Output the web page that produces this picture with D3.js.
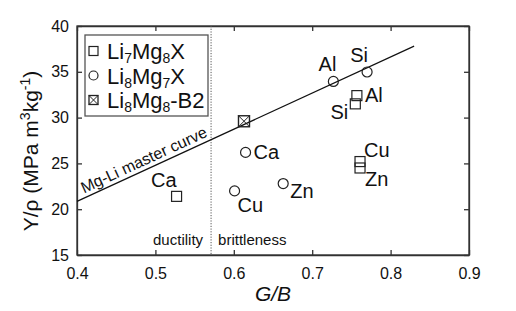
<!DOCTYPE html>
<html>
<head>
<meta charset="utf-8">
<script src="https://cdn.jsdelivr.net/npm/d3@7"></script>
<style>
  body { margin: 0; background: #fff; }
  text { font-family: "Liberation Sans", Arial, sans-serif; fill: #111; }
</style>
</head>
<body>
<div id="container"></div>
<script>
/* DATA */
const xTicks = [0.4, 0.5, 0.6, 0.7, 0.8, 0.9];
const yTicks = [15, 20, 25, 30, 35, 40];

// Li7Mg8X (squares)
const li7Names = ["Ca", "Al", "Si", "Cu", "Zn"];
const li7GB = [0.527, 0.757, 0.755, 0.761, 0.761];
const li7Y = [21.4, 32.4, 31.5, 25.2, 24.5];

// Li8Mg7X (circles)
const li8Names = ["Al", "Si", "Ca", "Cu", "Zn"];
const li8GB = [0.727, 0.770, 0.615, 0.601, 0.663];
const li8Y = [33.95, 34.98, 26.2, 22.0, 22.8];

// Li8Mg8-B2
const b2GB = [0.613];
const b2Y = [29.6];

// Mg-Li master curve (straight line ends)
const curveGB = [0.4, 0.83];
const curveY = [20.85, 37.8];

// ductility / brittleness boundary
const boundaryGB = 0.571;

/* LAYOUT */
const width = 516, height = 311;
const mLeft = 77, mRight = 469, mTop = 26, mBottom = 255;

// label placement for each point (dx, dy, anchor)
const li7Labels = {
  Ca: [0, -9, "end"], Al: [8, 6, "start"], Si: [-7, 15, "end"],
  Cu: [4, -5, "start"], Zn: [5, 18, "start"]
};
const li8Labels = {
  Al: [3, -10, "end"], Si: [-8, -10, "middle"], Ca: [8, 7, "start"],
  Cu: [3, 21, "start"], Zn: [7, 14, "start"]
};

const svg = d3.select("#container")
  .append("svg")
  .attr("width", width)
  .attr("height", height);

const xScale = d3.scaleLinear().domain([0.4, 0.9]).range([mLeft, mRight]);
const yScale = d3.scaleLinear().domain([15, 40]).range([mBottom, mTop]);

/* AXES (ticks inside, on all four sides) */
const tickLen = 5;
const axisColor = "#333";

svg.append("g")
  .attr("transform", `translate(0, ${mBottom})`)
  .call(d3.axisBottom(xScale).tickValues(xTicks).tickFormat(d3.format(".1f")).tickSizeInner(-tickLen).tickSizeOuter(0).tickPadding(13))
  .call(g => g.selectAll("text").style("font-size", "16px").attr("font-family", "Liberation Sans, Arial"));

svg.append("g")
  .attr("transform", `translate(0, ${mTop})`)
  .call(d3.axisTop(xScale).tickValues(xTicks).tickFormat("").tickSizeInner(-tickLen).tickSizeOuter(0));

svg.append("g")
  .attr("transform", `translate(${mLeft}, 0)`)
  .call(d3.axisLeft(yScale).tickValues(yTicks).tickSizeInner(-tickLen).tickSizeOuter(0).tickPadding(8))
  .call(g => g.selectAll("text").style("font-size", "16px").attr("font-family", "Liberation Sans, Arial"));

svg.append("g")
  .attr("transform", `translate(${mRight}, 0)`)
  .call(d3.axisRight(yScale).tickValues(yTicks).tickFormat("").tickSizeInner(-tickLen).tickSizeOuter(0));

svg.selectAll(".domain, .tick line").attr("stroke", axisColor).attr("stroke-width", 1.3);
svg.selectAll(".tick text").attr("fill", "#111");

// frame (ensure all four sides)
svg.append("rect")
  .attr("x", mLeft).attr("y", mTop)
  .attr("width", mRight - mLeft).attr("height", mBottom - mTop)
  .attr("fill", "none").attr("stroke", axisColor).attr("stroke-width", 1.3);

/* BOUNDARY */
svg.append("line")
  .attr("x1", xScale(boundaryGB)).attr("x2", xScale(boundaryGB))
  .attr("y1", mTop).attr("y2", mBottom)
  .attr("stroke", "#555").attr("stroke-width", 1)
  .attr("stroke-dasharray", "1.2,1.5");

svg.append("text")
  .attr("x", xScale(boundaryGB) - 8).attr("y", 245)
  .attr("text-anchor", "end").style("font-size", "15px")
  .text("ductility");
svg.append("text")
  .attr("x", xScale(boundaryGB) + 7).attr("y", 245)
  .attr("text-anchor", "start").style("font-size", "15px")
  .text("brittleness");

/* MASTER CURVE */
const x1 = xScale(curveGB[0]), y1 = yScale(curveY[0]);
const x2 = xScale(curveGB[1]), y2 = yScale(curveY[1]);
svg.append("line")
  .attr("x1", x1).attr("y1", y1).attr("x2", x2).attr("y2", y2)
  .attr("stroke", "#111").attr("stroke-width", 1.2);

const angle = Math.atan2(y2 - y1, x2 - x1) * 180 / Math.PI;
svg.append("text")
  .attr("transform", `translate(${x1 + 7}, ${y1 - 8}) rotate(${angle})`)
  .style("font-size", "16px")
  .text("Mg-Li master curve");

/* POINTS */
const sq = 10;
const li7 = li7Names.map((n, i) => ({ name: n, gb: li7GB[i], y: li7Y[i] }));
const li8 = li8Names.map((n, i) => ({ name: n, gb: li8GB[i], y: li8Y[i] }));
const b2 = b2GB.map((g, i) => ({ gb: g, y: b2Y[i] }));

svg.selectAll(".sq")
  .data(li7)
  .join("rect")
  .attr("class", "sq")
  .attr("x", d => xScale(d.gb) - sq / 2)
  .attr("y", d => yScale(d.y) - sq / 2)
  .attr("width", sq).attr("height", sq)
  .attr("fill", "none").attr("stroke", "#222").attr("stroke-width", 1.2);

svg.selectAll(".circ")
  .data(li8)
  .join("circle")
  .attr("class", "circ")
  .attr("cx", d => xScale(d.gb))
  .attr("cy", d => yScale(d.y))
  .attr("r", 5)
  .attr("fill", "none").attr("stroke", "#222").attr("stroke-width", 1.2);

const b2g = svg.selectAll(".b2")
  .data(b2)
  .join("g")
  .attr("class", "b2")
  .attr("transform", d => `translate(${xScale(d.gb)}, ${yScale(d.y)})`);
b2g.append("rect")
  .attr("x", -5.5).attr("y", -5.5).attr("width", 11).attr("height", 11)
  .attr("fill", "none").attr("stroke", "#222").attr("stroke-width", 1.4);
b2g.append("path")
  .attr("d", "M-5.5,-5.5L5.5,5.5M5.5,-5.5L-5.5,5.5")
  .attr("stroke", "#222").attr("stroke-width", 1);

svg.selectAll(".lab7")
  .data(li7)
  .join("text")
  .attr("class", "lab7")
  .attr("x", d => xScale(d.gb) + li7Labels[d.name][0])
  .attr("y", d => yScale(d.y) + li7Labels[d.name][1])
  .attr("text-anchor", d => li7Labels[d.name][2])
  .style("font-size", "20px")
  .text(d => d.name);

svg.selectAll(".lab8")
  .data(li8)
  .join("text")
  .attr("class", "lab8")
  .attr("x", d => xScale(d.gb) + li8Labels[d.name][0])
  .attr("y", d => yScale(d.y) + li8Labels[d.name][1])
  .attr("text-anchor", d => li8Labels[d.name][2])
  .style("font-size", "20px")
  .text(d => d.name);

/* AXIS TITLES */
svg.append("text")
  .attr("x", xScale(0.65)).attr("y", 301)
  .attr("text-anchor", "middle")
  .style("font-size", "21px").style("font-style", "italic")
  .text("G/B");

const yt = svg.append("text")
  .attr("transform", `translate(38, 151) rotate(-90)`)
  .attr("text-anchor", "middle")
  .style("font-size", "21px");
yt.append("tspan").text("Y/ρ (MPa m");
yt.append("tspan").attr("dy", -8).style("font-size", "14px").text("3");
yt.append("tspan").attr("dy", 8).text("kg");
yt.append("tspan").attr("dy", -8).style("font-size", "14px").text("-1");
yt.append("tspan").attr("dy", 8).text(")");

/* LEGEND */
const legend = svg.append("g");
legend.append("rect")
  .attr("x", 85).attr("y", 35).attr("width", 123).attr("height", 81)
  .attr("fill", "#fff").attr("stroke", "#555").attr("stroke-width", 1.3);

const legendRows = [
  { type: "sq", parts: ["Li", "7", "Mg", "8", "X"] },
  { type: "circ", parts: ["Li", "8", "Mg", "7", "X"] },
  { type: "b2", parts: ["Li", "8", "Mg", "8", "-B2"] }
];
legendRows.forEach((r, i) => {
  const cy = 51 + i * 24.5;
  if (r.type === "sq") {
    legend.append("rect").attr("x", 89).attr("y", cy - 4.5).attr("width", 9).attr("height", 9)
      .attr("fill", "none").attr("stroke", "#222").attr("stroke-width", 1.2);
  } else if (r.type === "circ") {
    legend.append("circle").attr("cx", 93.5).attr("cy", cy).attr("r", 4.5)
      .attr("fill", "none").attr("stroke", "#222").attr("stroke-width", 1.2);
  } else {
    legend.append("rect").attr("x", 89).attr("y", cy - 4.5).attr("width", 9).attr("height", 9)
      .attr("fill", "none").attr("stroke", "#222").attr("stroke-width", 1.3);
    legend.append("path").attr("d", `M89,${cy - 4.5}L98,${cy + 4.5}M98,${cy - 4.5}L89,${cy + 4.5}`)
      .attr("stroke", "#222").attr("stroke-width", 1);
  }
  const t = legend.append("text").attr("x", 107).attr("y", cy + 8).style("font-size", "22px");
  r.parts.forEach((p, j) => {
    const sub = j === 1 || j === 3;
    t.append("tspan")
      .attr("dy", sub ? 4 : (j === 0 ? 0 : -4))
      .style("font-size", sub ? "14px" : "22px")
      .text(p);
  });
});
</script>
</body>
</html>
